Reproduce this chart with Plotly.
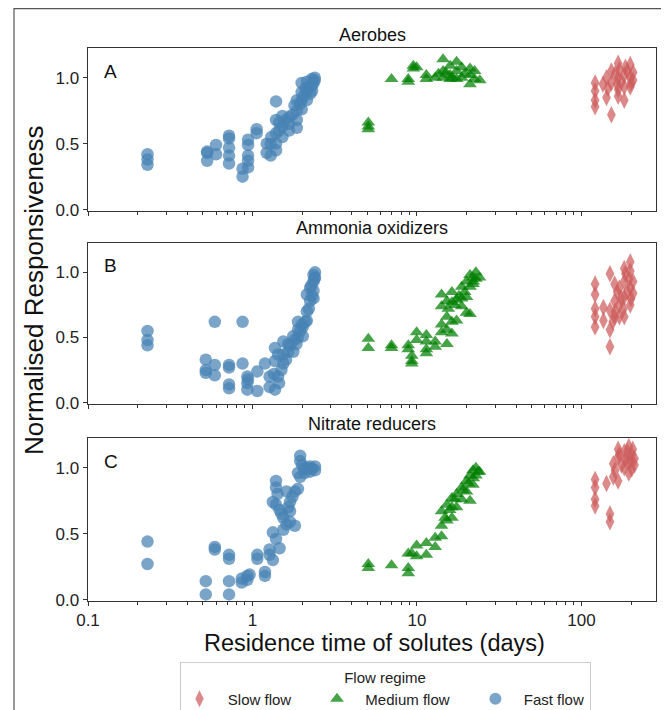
import plotly.graph_objects as go

# ---------------- data ----------------
panel_titles = ["Aerobes", "Ammonia oxidizers", "Nitrate reducers"]
panel_letters = ["A", "B", "C"]
group_names = ["Slow flow", "Medium flow", "Fast flow"]

# Panel A - Aerobes
aer_fast_x = [0.23, 0.23, 0.23, 0.53, 0.53, 0.53, 0.60, 0.60, 0.72, 0.72, 0.72, 0.72, 0.72,
              0.87, 0.87, 0.94, 0.94, 0.94, 0.94, 0.94, 1.06, 1.06, 1.22, 1.22, 1.29, 1.29,
              1.39, 1.39, 1.39, 1.39, 1.39, 1.52, 1.52, 1.52, 1.67, 1.67, 1.67,
              1.86, 1.86, 1.86, 1.86, 1.99, 1.99, 1.99, 1.99, 2.14, 2.14, 2.14,
              2.30, 2.30, 2.30, 2.39, 2.39,
              1.45, 1.60, 1.75, 1.95, 2.05, 2.20, 2.35, 1.30, 1.45, 2.25, 1.80, 2.10]
aer_fast_y = [0.42, 0.38, 0.34, 0.44, 0.43, 0.37, 0.49, 0.42, 0.56, 0.54, 0.47, 0.41, 0.35,
              0.31, 0.25, 0.53, 0.49, 0.41, 0.37, 0.32, 0.61, 0.58, 0.50, 0.43, 0.41, 0.50,
              0.82, 0.68, 0.58, 0.50, 0.45, 0.71, 0.63, 0.55, 0.70, 0.60, 0.65,
              0.83, 0.75, 0.68, 0.62, 0.96, 0.89, 0.83, 0.76, 0.97, 0.90, 0.83,
              0.99, 0.94, 0.90, 1.00, 0.98,
              0.66, 0.68, 0.72, 0.80, 0.86, 0.93, 0.96, 0.55, 0.60, 0.88, 0.79, 0.92]
aer_med_x = [5.06, 5.06, 5.06, 7.0, 8.85, 8.85, 9.5, 9.5, 9.95, 11.4, 11.4, 12.9,
             14.4, 14.4, 14.4, 15.9, 15.9, 15.9, 17.4, 17.4, 17.4, 18.7, 18.7,
             21.0, 21.0, 21.0, 22.4, 22.4, 24.1,
             13.5, 16.5, 19.5, 15.0]
aer_med_y = [0.66, 0.63, 0.61, 0.99, 0.99, 0.97, 1.09, 1.07, 1.08, 1.02, 0.99, 1.00,
             1.14, 1.05, 1.00, 1.09, 1.02, 0.99, 1.12, 1.05, 0.99, 1.08, 1.00,
             1.07, 1.02, 0.95, 1.05, 0.99, 0.98,
             1.03, 1.00, 1.03, 1.04]
aer_slow_x = [121, 121, 121, 121, 142, 142, 152, 152, 152, 167, 167, 167, 167,
              182, 182, 182, 198, 198, 198, 206, 206,
              135, 160, 175, 190, 200, 165, 185, 145, 170]
aer_slow_y = [0.96, 0.90, 0.83, 0.78, 0.85, 1.00, 0.72, 0.96, 1.05, 1.11, 1.00, 0.91, 0.86,
              1.02, 0.83, 0.93, 1.10, 1.00, 0.93, 1.04, 0.98,
              0.95, 1.03, 0.97, 1.05, 0.96, 0.95, 1.08, 0.92, 1.06]

# Panel B - Ammonia oxidizers
amo_fast_x = [0.23, 0.23, 0.23, 0.59, 0.87, 0.52, 0.52, 0.52, 0.59, 0.59,
              0.72, 0.72, 0.72, 0.72, 0.87, 0.93, 0.93, 0.93, 0.94, 1.07, 1.07, 1.19,
              1.27, 1.27, 1.37, 1.37, 1.37, 1.43, 1.43, 1.54, 1.54, 1.54, 1.65, 1.65,
              1.77, 1.77, 1.89, 1.89, 1.89, 2.02, 2.02, 2.14, 2.14, 2.14, 2.24, 2.24,
              2.35, 2.35, 2.35, 2.35, 2.40, 2.40,
              1.50, 1.60, 1.70, 1.85, 1.95, 2.10, 2.20, 2.30, 1.45, 1.35, 2.28, 2.38, 2.00, 1.80]
amo_fast_y = [0.55, 0.48, 0.44, 0.62, 0.62, 0.33, 0.25, 0.23, 0.29, 0.21,
              0.29, 0.27, 0.14, 0.11, 0.30, 0.20, 0.15, 0.10, 0.18, 0.24, 0.09, 0.30,
              0.12, 0.20, 0.42, 0.32, 0.10, 0.37, 0.20, 0.47, 0.37, 0.30, 0.45, 0.39,
              0.51, 0.39, 0.62, 0.56, 0.50, 0.58, 0.51, 0.70, 0.83, 0.63, 0.88, 0.78,
              0.98, 0.93, 0.86, 0.80, 1.00, 0.96,
              0.25, 0.33, 0.44, 0.45, 0.55, 0.62, 0.72, 0.82, 0.15, 0.22, 0.90, 0.95, 0.60, 0.48]
amo_med_x = [5.06, 5.06, 7.0, 7.0, 8.85, 8.85, 9.3, 9.3, 9.3, 9.95, 9.95,
             11.4, 11.4, 11.4, 11.4, 12.9, 12.9, 14.1, 14.1, 14.1, 14.1,
             15.2, 15.2, 15.2, 15.2, 16.3, 16.3, 16.3, 16.3, 17.4, 17.4,
             18.7, 18.7, 18.7, 20.0, 20.0, 20.0, 21.0, 21.0, 21.0, 21.9, 21.9,
             22.8, 22.8, 24.0,
             19.5, 22.0, 17.0, 15.5, 18.0]
amo_med_y = [0.49, 0.42, 0.44, 0.42, 0.44, 0.41, 0.36, 0.32, 0.30, 0.54, 0.48,
             0.52, 0.47, 0.41, 0.38, 0.47, 0.43, 0.83, 0.74, 0.60, 0.54,
             0.78, 0.66, 0.56, 0.45, 0.85, 0.77, 0.62, 0.53, 0.79, 0.63,
             0.89, 0.80, 0.74, 0.93, 0.81, 0.69, 0.98, 0.89, 0.68, 0.96, 0.91,
             1.00, 0.95, 0.96,
             0.85, 0.93, 0.75, 0.72, 0.82]
amo_slow_x = [121, 121, 121, 121, 121, 136, 136, 149, 149, 149, 149, 159, 159, 159,
              170, 170, 170, 182, 182, 182, 182, 198, 198, 198, 198, 206, 206,
              165, 175, 190, 195, 180, 160, 200, 155, 185]
amo_slow_y = [0.91, 0.83, 0.72, 0.66, 0.58, 0.73, 0.63, 0.99, 0.56, 0.43, 0.71, 0.78, 0.91, 0.66,
              0.88, 0.75, 0.66, 1.03, 0.93, 0.81, 0.66, 1.08, 1.01, 0.88, 0.75, 0.93, 0.84,
              0.85, 0.80, 0.85, 0.95, 0.72, 0.70, 0.80, 0.62, 0.99]

# Panel C - Nitrate reducers
nit_fast_x = [0.23, 0.23, 0.52, 0.52, 0.59, 0.59, 0.72, 0.72, 0.72, 0.72, 0.86, 0.86,
              0.93, 0.93, 0.96, 1.07, 1.07, 1.19, 1.19, 1.27, 1.27, 1.33, 1.33, 1.33,
              1.39, 1.39, 1.39, 1.39, 1.46, 1.46, 1.54, 1.54, 1.61, 1.61,
              1.69, 1.69, 1.69, 1.81, 1.81, 1.89, 1.89, 1.95, 1.95, 1.95,
              2.07, 2.07, 2.24, 2.24, 2.40, 2.40,
              2.15, 2.30, 2.00, 1.75, 1.65, 1.50, 1.42]
nit_fast_y = [0.44, 0.27, 0.14, 0.04, 0.40, 0.38, 0.34, 0.31, 0.14, 0.04, 0.13, 0.16,
              0.18, 0.15, 0.19, 0.34, 0.31, 0.21, 0.18, 0.38, 0.34, 0.30, 0.51, 0.74,
              0.90, 0.85, 0.72, 0.46, 0.68, 0.39, 0.62, 0.53, 0.82, 0.57,
              0.74, 0.67, 0.59, 0.82, 0.56, 0.96, 0.84, 1.09, 1.05, 0.93,
              0.99, 0.96, 1.01, 0.97, 1.01, 0.98,
              1.00, 0.99, 1.02, 0.78, 0.70, 0.65, 0.80]
nit_med_x = [5.06, 5.06, 7.0, 8.85, 8.85, 8.85, 9.3, 9.95, 9.95, 11.4, 11.4, 12.9, 12.9,
             14.1, 14.1, 14.1, 15.2, 15.2, 16.3, 16.3, 16.3, 17.4, 17.4, 18.7, 18.7,
             20.0, 20.0, 21.0, 21.0, 21.9, 21.9, 22.8, 22.8, 24.0,
             17.0, 19.0, 20.5, 22.0, 23.5, 15.8, 14.8]
nit_med_y = [0.27, 0.24, 0.26, 0.35, 0.24, 0.20, 0.35, 0.41, 0.33, 0.43, 0.34, 0.47, 0.40,
             0.67, 0.56, 0.48, 0.72, 0.60, 0.77, 0.70, 0.62, 0.70, 0.80, 0.85, 0.76,
             0.90, 0.82, 0.94, 0.75, 0.98, 0.87, 1.00, 0.94, 0.97,
             0.76, 0.83, 0.88, 0.92, 0.97, 0.68, 0.62]
nit_slow_x = [121, 121, 121, 121, 142, 149, 149, 156, 156, 167, 167, 167,
              182, 182, 194, 194, 194, 202, 202, 210, 210,
              170, 185, 200, 175, 190, 160, 205]
nit_slow_y = [0.91, 0.85, 0.76, 0.71, 0.88, 0.65, 0.59, 1.03, 0.93, 1.14, 1.08, 0.90,
              1.12, 1.00, 1.16, 1.05, 0.96, 1.10, 0.99, 1.02, 1.07,
              1.10, 1.06, 1.05, 1.02, 1.12, 0.98, 1.14]

x_tick_vals = [0.1, 1, 10, 100]
x_tick_text = ["0.1", "1", "10", "100"]
x_minor_vals = [0.2, 0.3, 0.4, 0.5, 0.6, 0.7, 0.8, 0.9,
                2, 3, 4, 5, 6, 7, 8, 9,
                20, 30, 40, 50, 60, 70, 80, 90, 200]
y_tick_vals = [0.0, 0.5, 1.0]
y_tick_text = ["0.0", "0.5", "1.0"]

# ---------------- styling ----------------
FONT = "Liberation Sans, Arial, sans-serif"
colors = {"Slow flow": "#CD5C5C", "Medium flow": "#008000", "Fast flow": "#4682B4"}
symbols = {"Slow flow": "diamond-tall", "Medium flow": "triangle-up", "Fast flow": "circle"}
sizes = {"Slow flow": 12.5, "Medium flow": 12, "Fast flow": 12.5}
NB = "\u00a0"
legend_labels = {
    "Slow flow": NB * 2 + "Slow flow" + NB * 5,
    "Medium flow": NB * 2 + "Medium flow" + NB * 5,
    "Fast flow": NB * 2 + "Fast flow",
}

panels = [
    {"Slow flow": (aer_slow_x, aer_slow_y), "Medium flow": (aer_med_x, aer_med_y), "Fast flow": (aer_fast_x, aer_fast_y)},
    {"Slow flow": (amo_slow_x, amo_slow_y), "Medium flow": (amo_med_x, amo_med_y), "Fast flow": (amo_fast_x, amo_fast_y)},
    {"Slow flow": (nit_slow_x, nit_slow_y), "Medium flow": (nit_med_x, nit_med_y), "Fast flow": (nit_fast_x, nit_fast_y)},
]

# page offset of the figure inside the browser body
OFF = 8
W, H = 669 - OFF, 710 - OFF
ML = 88 - OFF
MR = W - (656 - OFF)
MT = 48 - OFF
MB = H - (601 - OFF)
plot_w = W - ML - MR
plot_h = H - MT - MB

def py2paper(py):
    return (H - MB - (py - OFF)) / plot_h

def px2paper(px):
    return ((px - OFF) - ML) / plot_w

domains = [
    [py2paper(211), py2paper(48)],
    [py2paper(404), py2paper(243)],
    [py2paper(601), py2paper(438)],
]

fig = go.Figure()
for i, panel in enumerate(panels):
    ax = "" if i == 0 else str(i + 1)
    for g in group_names:
        xs, ys = panel[g]
        fig.add_trace(go.Scatter(
            x=xs, y=ys, mode="markers", name=legend_labels[g], legendgroup=g, showlegend=(i == 0),
            xaxis="x" + ax, yaxis="y" + ax,
            marker=dict(symbol=symbols[g], size=sizes[g], color=colors[g], opacity=0.72,
                        line=dict(width=0)),
        ))

layout = dict(
    width=W, height=H,
    margin=dict(l=ML, r=MR, t=MT, b=MB),
    paper_bgcolor="white", plot_bgcolor="white",
    font=dict(family=FONT, size=17, color="#222"),
    showlegend=True,
    legend=dict(
        orientation="h", xref="paper", x=px2paper(385), xanchor="center",
        yref="container", y=(H - (662 - OFF)) / H, yanchor="top",
        title=dict(text="Flow regime", side="top center", font=dict(size=15, color="#222")),
        font=dict(size=15, color="#222"),
        bordercolor="#cccccc", borderwidth=1, bgcolor="white",
        itemsizing="constant",
    ),
)

for i in range(3):
    ax = "" if i == 0 else str(i + 1)
    layout["xaxis" + ax] = dict(
        type="log", range=[-1, 2.453], anchor="y" + ax, domain=[0, 1],
        showline=True, linecolor="#333", linewidth=1, mirror=True,
        ticks="outside", ticklen=3.5, tickcolor="#333",
        tickvals=x_tick_vals, ticktext=x_tick_text, showticklabels=(i == 2),
        tickfont=dict(size=17, color="#222"),
        minor=dict(ticks="outside", ticklen=2.5, tickcolor="#333", tickvals=x_minor_vals, showgrid=False),
        showgrid=False, zeroline=False,
    )
    layout["yaxis" + ax] = dict(
        range=[-0.01, 1.225], anchor="x" + ax, domain=domains[i],
        showline=True, linecolor="#333", linewidth=1, mirror=True,
        ticks="outside", ticklen=4.5, tickcolor="#333",
        tickvals=y_tick_vals, ticktext=y_tick_text,
        tickfont=dict(size=17, color="#222"),
        showgrid=False, zeroline=False,
    )

fig.update_layout(**layout)

annotations = []
title_y = [35, 228, 424]
for i in range(3):
    ax = "" if i == 0 else str(i + 1)
    annotations.append(dict(
        text=panel_titles[i], xref="paper", yref="paper", x=0.5, y=py2paper(title_y[i]),
        xanchor="center", yanchor="middle", showarrow=False,
        font=dict(size=18, color="#111"),
    ))
    annotations.append(dict(
        text=panel_letters[i], xref="x" + ax + " domain", yref="y" + ax + " domain",
        x=0.024, y=0.935, xanchor="left", yanchor="top", showarrow=False,
        font=dict(size=19, color="#111"),
    ))

annotations.append(dict(
    text="Normalised Responsiveness", xref="paper", yref="paper",
    x=px2paper(34), y=py2paper(291), textangle=-90,
    xanchor="center", yanchor="middle", showarrow=False,
    font=dict(size=26, color="#111"),
))
annotations.append(dict(
    text="Residence time of solutes (days)", xref="paper", yref="paper",
    x=px2paper(374), y=py2paper(643),
    xanchor="center", yanchor="middle", showarrow=False,
    font=dict(size=23.5, color="#111"),
))
fig.update_layout(annotations=annotations)

# outer frame around the figure
fig.add_shape(type="rect", xref="paper", yref="paper",
              x0=px2paper(14), x1=px2paper(663), y0=py2paper(740), y1=py2paper(8.6),
              line=dict(color="#555", width=1.2), layer="below")

fig.write_html("out.html")
